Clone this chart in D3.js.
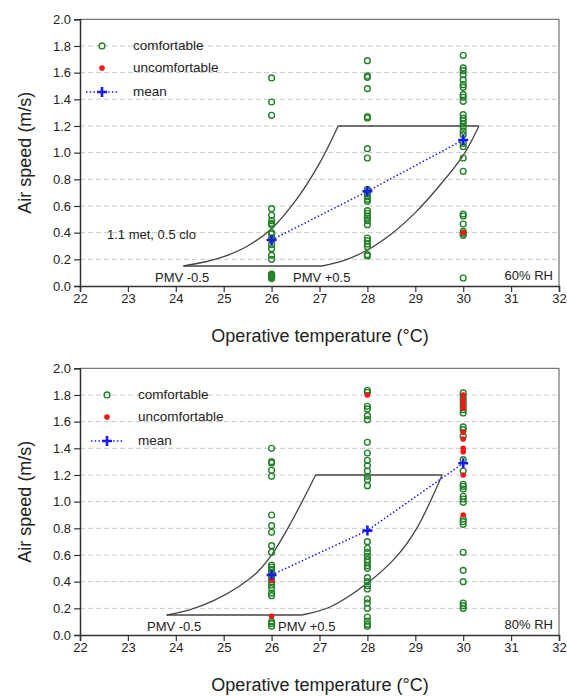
<!DOCTYPE html>
<html>
<head>
<meta charset="utf-8">
<script src="https://cdn.jsdelivr.net/npm/d3@7"></script>
<style>
  body { margin: 0; background: #fff; }
  svg text { font-family: "Liberation Sans", Arial, sans-serif; fill: #222; }
</style>
</head>
<body>
<div id="chart"></div>
<script>
// Axis ticks
var xTicks = [22, 23, 24, 25, 26, 27, 28, 29, 30, 31, 32];
var yTicks = [0, 0.2, 0.4, 0.6, 0.8, 1.0, 1.2, 1.4, 1.6, 1.8, 2.0];
var temps = [26, 28, 30];

// 60% RH - comfortable votes per temperature
var comf60_26 = [1.56, 1.38, 1.28, 0.58, 0.53, 0.49, 0.47, 0.46, 0.40, 0.39, 0.36, 0.345, 0.31, 0.28, 0.23, 0.20,
  0.09, 0.083, 0.076, 0.07, 0.063, 0.056];
var comf60_28 = [1.69, 1.575, 1.565, 1.48, 1.27, 1.26, 1.03, 0.96, 0.725, 0.71, 0.69, 0.67, 0.65, 0.635,
  0.565, 0.545, 0.525, 0.51, 0.49, 0.46, 0.36, 0.34, 0.315, 0.295, 0.235, 0.225];
var comf60_30 = [1.73, 1.635, 1.615, 1.585, 1.545, 1.51, 1.49, 1.435, 1.415, 1.385, 1.285, 1.26, 1.24, 1.215,
  1.19, 1.16, 1.135, 1.07, 1.045, 0.96, 0.86, 0.54, 0.525, 0.465, 0.41, 0.395, 0.38, 0.06];
var unc60_26 = [];
var unc60_28 = [];
var unc60_30 = [0.40];
var mean60 = [0.345, 0.71, 1.095];

// 80% RH
var comf80_26 = [1.40, 1.30, 1.29, 1.235, 1.19, 0.90, 0.82, 0.77, 0.67, 0.62, 0.525, 0.51, 0.49, 0.465, 0.445,
  0.425, 0.40, 0.375, 0.35, 0.315, 0.295, 0.10, 0.085, 0.065];
var comf80_28 = [1.835, 1.82, 1.715, 1.695, 1.645, 1.615, 1.445, 1.365, 1.31, 1.27, 1.23, 1.19, 1.165, 1.12,
  0.70, 0.65, 0.62, 0.59, 0.565, 0.545, 0.52, 0.50, 0.43, 0.40, 0.37, 0.345, 0.27, 0.24, 0.20, 0.135, 0.105,
  0.08, 0.065];
var comf80_30 = [1.815, 1.79, 1.765, 1.74, 1.715, 1.69, 1.665, 1.56, 1.54, 1.49, 1.315, 1.23, 1.13, 1.115,
  1.095, 1.04, 1.02, 0.995, 0.87, 0.85, 0.83, 0.62, 0.485, 0.40, 0.24, 0.22, 0.20];
var unc80_26 = [0.14, 0.41];
var unc80_28 = [1.80];
var unc80_30 = [1.80, 1.76, 1.73, 1.70, 1.52, 1.47, 1.40, 1.375, 1.20, 0.90];
var mean80 = [0.45, 0.783, 1.288];

// Comfort zone boundaries (PMV -0.5 / +0.5)
var zone60Left = [[24.16, 0.15], [24.6, 0.18], [25.0, 0.22], [25.5, 0.30], [26.0, 0.43], [26.5, 0.64], [27.0, 0.92], [27.39, 1.2]];
var zone60Right = [[27.05, 0.15], [27.5, 0.19], [28.0, 0.27], [28.5, 0.39], [29.0, 0.55], [29.5, 0.75], [30.0, 0.98], [30.33, 1.2]];
var zone80Left = [[23.81, 0.15], [24.3, 0.19], [24.8, 0.26], [25.3, 0.36], [25.7, 0.47], [26.0, 0.6], [26.4, 0.84], [26.92, 1.2]];
var zone80Right = [[26.63, 0.15], [27.22, 0.21], [28.0, 0.39], [28.61, 0.59], [29.03, 0.8], [29.56, 1.2]];

var green = "#23802a", red = "#f01818", blue = "#1a1aee";

var svg = d3.select("#chart").append("svg").attr("width", 567).attr("height", 696);

function drawPanel(p) {
  var x = d3.scaleLinear().domain([22, 32]).range([80, 559]);
  var y = d3.scaleLinear().domain([0, 2]).range([p.bottom, p.bottom - 266.7]);
  var g = svg.append("g");

  // grid
  g.selectAll(".grid").data(yTicks.slice(1, -1)).enter().append("line")
    .attr("x1", 80).attr("x2", 559)
    .attr("y1", function (d) { return y(d); }).attr("y2", function (d) { return y(d); })
    .attr("stroke", "#c8c8c8").attr("stroke-width", 1).attr("stroke-dasharray", "5,3");

  // frame top/right
  g.append("path")
    .attr("d", "M80," + y(2) + "H559V" + y(0))
    .attr("fill", "none").attr("stroke", "#555").attr("stroke-width", 1);

  // axes
  var xAxis = g.append("g").attr("transform", "translate(0," + y(0) + ")")
    .call(d3.axisBottom(x).tickValues(xTicks).tickSize(6).tickPadding(2).tickFormat(d3.format("d")));
  var yAxis = g.append("g").attr("transform", "translate(80,0)")
    .call(d3.axisLeft(y).tickValues(yTicks).tickSize(6).tickPadding(3).tickFormat(d3.format(".1f")));
  [xAxis, yAxis].forEach(function (a) {
    a.select(".domain").attr("stroke", "#333").attr("stroke-width", 1.5);
    a.selectAll(".tick line").attr("stroke", "#333").attr("stroke-width", 1.2);
    a.selectAll("text").attr("font-size", 13).attr("fill", "#222")
      .style("font-family", "'Liberation Sans', Arial, sans-serif");
  });

  // comfort zone
  var line = d3.line().x(function (d) { return x(d[0]); }).y(function (d) { return y(d[1]); });
  var curve = d3.line().curve(d3.curveCatmullRom.alpha(0.5)).x(function (d) { return x(d[0]); }).y(function (d) { return y(d[1]); });
  var zs = { stroke: "#444", width: 1.3 };
  [p.zoneLeft, p.zoneRight].forEach(function (c) {
    g.append("path").attr("d", curve(c)).attr("fill", "none").attr("stroke", zs.stroke).attr("stroke-width", zs.width);
  });
  var L = p.zoneLeft, R = p.zoneRight;
  g.append("path").attr("d", line([L[0], R[0]])).attr("fill", "none").attr("stroke", zs.stroke).attr("stroke-width", zs.width);
  g.append("path").attr("d", line([L[L.length - 1], R[R.length - 1]])).attr("fill", "none").attr("stroke", zs.stroke).attr("stroke-width", zs.width);

  // points
  temps.forEach(function (t, i) {
    g.selectAll(null).data(p.comf[i]).enter().append("circle")
      .attr("cx", x(t)).attr("cy", function (d) { return y(d); })
      .attr("r", 2.9).attr("fill", "none").attr("stroke", green).attr("stroke-width", 1.4);
    g.selectAll(null).data(p.unc[i]).enter().append("circle")
      .attr("cx", x(t)).attr("cy", function (d) { return y(d); })
      .attr("r", 2.8).attr("fill", red);
  });

  // mean
  var meanPts = temps.map(function (t, i) { return [t, p.mean[i]]; });
  g.append("path").attr("d", line(meanPts)).attr("fill", "none")
    .attr("stroke", blue).attr("stroke-width", 1.5).attr("stroke-dasharray", "1.5,2.2");
  function cross(cx, cy) {
    g.append("path").attr("d", "M" + (cx - 5) + "," + cy + "h10M" + cx + "," + (cy - 5) + "v10")
      .attr("stroke", blue).attr("stroke-width", 2.6);
  }
  meanPts.forEach(function (d) { cross(x(d[0]), y(d[1])); });

  // legend
  var lx = p.legendX, ly = y(1.8);
  g.append("circle").attr("cx", lx).attr("cy", ly).attr("r", 2.9).attr("fill", "none").attr("stroke", green).attr("stroke-width", 1.4);
  g.append("circle").attr("cx", lx).attr("cy", ly + 22).attr("r", 2.8).attr("fill", red);
  g.append("line").attr("x1", lx - 16).attr("x2", lx + 16).attr("y1", ly + 46).attr("y2", ly + 46)
    .attr("stroke", blue).attr("stroke-width", 1.5).attr("stroke-dasharray", "1.5,2.2");
  cross(lx, ly + 46);
  ["comfortable", "uncomfortable", "mean"].forEach(function (s, i) {
    g.append("text").attr("x", lx + 31).attr("y", ly + [0, 22, 46][i] + 4.5).attr("font-size", 13.5).text(s);
  });

  // annotations
  if (p.note) g.append("text").attr("x", 107).attr("y", y(0.4) + 6).attr("font-size", 13).text(p.note);
  g.append("text").attr("x", p.pmvMinusX).attr("y", y(0) - 4).attr("font-size", 13).text("PMV -0.5");
  g.append("text").attr("x", p.pmvPlusX).attr("y", y(0) - 4).attr("font-size", 13).text("PMV +0.5");
  g.append("text").attr("x", 553).attr("y", y(0) - 6).attr("text-anchor", "end").attr("font-size", 13).text(p.rh);

  // axis titles
  g.append("text").attr("x", 320).attr("y", y(0) + 56).attr("text-anchor", "middle").attr("font-size", 18)
    .text("Operative temperature (°C)");
  g.append("text").attr("transform", "translate(31," + y(1.0) + ") rotate(-90)")
    .attr("text-anchor", "middle").attr("font-size", 18).text("Air speed (m/s)");
}

drawPanel({
  bottom: 286, comf: [comf60_26, comf60_28, comf60_30], unc: [unc60_26, unc60_28, unc60_30], mean: mean60,
  zoneLeft: zone60Left, zoneRight: zone60Right, legendX: 102, note: "1.1 met, 0.5 clo",
  pmvMinusX: 155, pmvPlusX: 293, rh: "60% RH"
});
drawPanel({
  bottom: 635, comf: [comf80_26, comf80_28, comf80_30], unc: [unc80_26, unc80_28, unc80_30], mean: mean80,
  zoneLeft: zone80Left, zoneRight: zone80Right, legendX: 107, note: null,
  pmvMinusX: 147, pmvPlusX: 278, rh: "80% RH"
});
</script>
</body>
</html>
